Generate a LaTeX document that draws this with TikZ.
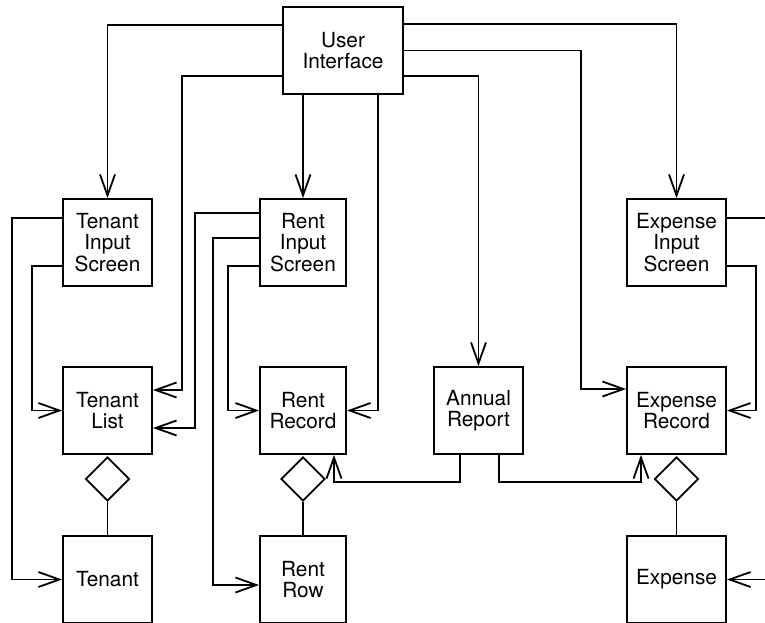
\documentclass[tikz,border=0pt]{standalone}
\usepackage{fontspec}
\setmainfont{TeX Gyre Heros}
\usetikzlibrary{arrows.meta,shapes.geometric,calc}
\begin{document}
\begin{tikzpicture}[x=1pt,y=-1pt,
  box/.style={draw,line width=1.8pt,minimum height=87pt,align=center,inner sep=0pt,
    font=\fontsize{20.8}{21.5}\selectfont},
  dia/.style={draw,line width=1.8pt,diamond,aspect=1,minimum width=44pt,minimum height=44pt,inner sep=0pt},
  arr/.style={line width=1.8pt,-{Straight Barb[length=21pt,width=15pt]}},
  ln/.style={line width=1.8pt}]
\useasboundingbox (0,0) rectangle (765,622);
\clip (0,0) rectangle (765,622);
% boxes
\node[box,minimum width=120pt] (ui) at (343,50.5) {User\\Interface};
\node[box,minimum width=89pt] (tis) at (107.5,242.5) {Tenant\\Input\\Screen};
\node[box,minimum width=86pt] (ris) at (303,242.5) {Rent\\Input\\Screen};
\node[box,minimum width=99pt] (eis) at (676.5,242.5) {Expense\\Input\\Screen};
\node[box,minimum width=89pt] (tl) at (107.5,410.5) {Tenant\\List};
\node[box,minimum width=86pt] (rr) at (303,410.5) {Rent\\Record};
\node[box,minimum width=89pt] (ar) at (478.5,410.5) {Annual\\Report};
\node[box,minimum width=99pt] (er) at (676.5,410.5) {Expense\\Record};
\node[box,minimum width=89pt] (ten) at (107.5,579.5) {Tenant};
\node[box,minimum width=86pt] (rrow) at (303,579.5) {Rent\\Row};
\node[box,minimum width=99pt] (exp) at (676.5,579.5) {Expense};
% aggregation diamonds
\node[dia] (d1) at (107.5,479) {};
\node[dia] (d2) at (303,479) {};
\node[dia] (d3) at (676.5,479) {};
\draw[ln] (d1.south) -- (ten.north);
\draw[ln] (d2.south) -- (rrow.north);
\draw[ln] (d3.south) -- (exp.north);
% connectors from user interface
\draw[arr] (ui.west |- 0,25) -| (tis.north);
\draw[arr] (ui.west |- 0,76) -| (182,390) -- (tl.east |- 0,390);
\draw[arr] (ui.south -| ris.north) -- (ris.north);
\draw[arr] (ui.south -| 378,0) |- (rr.east);
\draw[arr] (ui.east |- 0,76) -| (ar.north);
\draw[arr] (ui.east) -| (581,389) -- (er.west |- 0,389);
\draw[arr] (ui.east |- 0,24) -| (eis.north);
% from input screens
\draw[arr] (tis.west |- 0,218) -- (12,218) |- (ten.west);
\draw[arr] (tis.west |- 0,266) -- (32,266) |- (tl.west);
\draw[arr] (ris.west |- 0,213) -- (195,213) |- (tl.east |- 0,428);
\draw[arr] (ris.west |- 0,238) -- (213,238) |- (rrow.west |- 0,585);
\draw[arr] (ris.west |- 0,266) -- (228,266) |- (rr.west);
\draw[arr] (eis.east |- 0,218) -- (790,218) |- (exp.east);
\draw[arr] (eis.east |- 0,266) -- (756,266) |- (er.east);
% from annual report
\draw[arr] (ar.south -| 460,0) -- (460,482) -| (rr.south -| 334,0);
\draw[arr] (ar.south -| 499,0) -- (499,482) -| (er.south -| 641,0);
\end{tikzpicture}
\end{document}
